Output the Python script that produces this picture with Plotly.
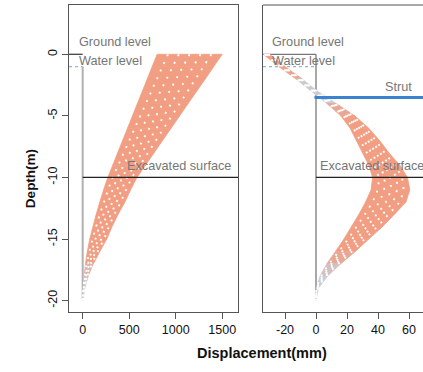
import plotly.graph_objects as go

# ---------------- data ----------------
depth = [0, -1, -2, -3, -4, -5, -6, -7, -8, -9, -10, -11, -12, -13, -14, -15,
         -16, -17, -18, -19, -20]

# left panel (displacement band, mm)
left_lo = [800, 747, 694, 641, 588, 535, 482, 429, 376, 323, 270, 225, 184, 145,
           110, 76, 50, 30, 15, 4, 0]
left_hi = [1500, 1408, 1317, 1225, 1133, 1042, 950, 858, 767, 675, 583, 515, 454,
           380, 315, 259, 185, 115, 60, 22, 3]

# right panel (displacement band, mm)
right_lo = [-34, -24, -13, -3, 7, 16, 22, 26, 30, 34, 36.5, 35.5, 32, 27.6, 22.8,
            18, 12.6, 7, 2.6, 0.2, 0]
right_hi = [-30, -20, -9, 1, 13, 25, 34, 41, 47, 54, 59, 60.5, 58, 50.5, 42.8,
            34, 25.4, 16, 7.5, 1.5, 0]

left_ticks = [0, 500, 1000, 1500]
left_ticktext = ["0", "500", "1000", "1500"]
right_ticks = [-20, 0, 20, 40, 60]
right_ticktext = ["-20", "0", "20", "40", "60"]
y_ticks = [0, -5, -10, -15, -20]
y_ticktext = ["0", "-5", "-10", "-15", "-20"]

GROUND_LEVEL = 0
WATER_LEVEL = -1
EXCAVATION = -10
STRUT_DEPTH = -3.5
WALL_BOTTOM = -19.9

# ---------------- style ----------------
SALMON = (242, 158, 131)
GRAYC = (200, 205, 216)
FONT = "Liberation Sans, Arial, Helvetica, sans-serif"
TXT = "#767676"
XR_L = [-147, 1669]
XR_R = [-34.2, 69.0]
YR = [-20.92, 4.0]


def mix(t):
    t = max(0.0, min(1.0, t))
    c = [round(GRAYC[k] + (SALMON[k] - GRAYC[k]) * t) for k in range(3)]
    return "rgb(%d,%d,%d)" % tuple(c)


fig = go.Figure()


def band(lo, hi, xa, ya, tlo, thi):
    for i in range(len(depth) - 1):
        mid = abs((lo[i] + hi[i] + lo[i + 1] + hi[i + 1]) / 4.0)
        col = mix((mid - tlo) / (thi - tlo))
        xs = [lo[i], lo[i + 1], hi[i + 1], hi[i], lo[i]]
        ys = [depth[i], depth[i + 1], depth[i + 1], depth[i], depth[i]]
        fig.add_trace(go.Scatter(x=xs, y=ys, xaxis=xa, yaxis=ya, mode="lines",
                                 fill="toself", fillcolor=col,
                                 line=dict(color=col, width=0.8),
                                 hoverinfo="skip"))
    for f in [1 / 6, 2 / 6, 3 / 6, 4 / 6, 5 / 6]:
        xs = [a + f * (b - a) for a, b in zip(lo, hi)]
        fig.add_trace(go.Scatter(x=xs, y=depth, xaxis=xa, yaxis=ya, mode="lines",
                                 line=dict(color="white", width=1.9,
                                           dash="1.9px,6.5px", shape="spline"),
                                 hoverinfo="skip"))


def hline(x0, x1, y, xa, ya, color, width, dash="solid"):
    fig.add_trace(go.Scatter(x=[x0, x1], y=[y, y], xaxis=xa, yaxis=ya,
                             mode="lines",
                             line=dict(color=color, width=width, dash=dash),
                             hoverinfo="skip"))


def vline(x, y0, y1, xa, ya, color, width):
    fig.add_trace(go.Scatter(x=[x, x], y=[y0, y1], xaxis=xa, yaxis=ya,
                             mode="lines", line=dict(color=color, width=width),
                             hoverinfo="skip"))


# ---- left panel ----
vline(0, WATER_LEVEL, WALL_BOTTOM, "x", "y", "#b0b0b0", 2)
hline(XR_L[0], 0, GROUND_LEVEL, "x", "y", "#333333", 1.2)
hline(XR_L[0], 0, WATER_LEVEL, "x", "y", "#8fb6e3", 1.2, "dot")
band(left_lo, left_hi, "x", "y", 15, 90)
hline(0, XR_L[1], EXCAVATION, "x", "y", "#222222", 1.2)

# ---- right panel ----
vline(0, GROUND_LEVEL, WALL_BOTTOM, "x2", "y2", "#a8a8a8", 2)
hline(XR_R[0], 0, GROUND_LEVEL, "x2", "y2", "#777777", 1.2)
hline(XR_R[0], 0, WATER_LEVEL, "x2", "y2", "#8fb6e3", 1.2, "dot")
band(right_lo, right_hi, "x2", "y2", 5, 18)
hline(0, XR_R[1], EXCAVATION, "x2", "y2", "#222222", 1.2)
hline(-1, XR_R[1], STRUT_DEPTH, "x2", "y2", "#3b82d0", 3)

annots = [
    dict(text="Ground level", x=-58, y=0.96, xref="x", yref="y"),
    dict(text="Water level", x=-58, y=-0.58, xref="x", yref="y"),
    dict(text="Excavated surface", x=453, y=-9.04, xref="x", yref="y"),
    dict(text="Ground level", x=-29.7, y=0.96, xref="x2", yref="y2"),
    dict(text="Water level", x=-29.7, y=-0.58, xref="x2", yref="y2"),
    dict(text="Excavated surface", x=1.5, y=-9.1, xref="x2", yref="y2"),
    dict(text="Strut", x=43.4, y=-2.63, xref="x2", yref="y2"),
]
for a in annots:
    a.update(showarrow=False, xanchor="left", yanchor="middle",
             font=dict(family=FONT, size=12.7, color=TXT))
    fig.add_annotation(**a)

fig.add_annotation(text="<b>Displacement(mm)</b>", x=0.545, y=-0.1336,
                   xref="paper", yref="paper", showarrow=False,
                   xanchor="center", yanchor="middle",
                   font=dict(family=FONT, size=14.5, color="#111"))
fig.add_annotation(text="<b>Depth(m)</b>", x=-0.110, y=0.433,
                   xref="paper", yref="paper", showarrow=False, textangle=-90,
                   xanchor="center", yanchor="middle",
                   font=dict(family=FONT, size=13.5, color="#111"))

fig.add_shape(type="line", xref="x2 domain", yref="y2 domain", x0=0, x1=1,
              y0=1, y1=1, line=dict(color="#555", width=1))

ax_common = dict(showgrid=False, zeroline=False, showline=True,
                 linecolor="#555", linewidth=1, ticks="outside", ticklen=6,
                 tickcolor="#555", tickfont=dict(family=FONT, size=12.5,
                                                 color="#111"))

fig.update_layout(
    width=423, height=372,
    margin=dict(l=69, r=0, t=5, b=60),
    paper_bgcolor="white", plot_bgcolor="white",
    showlegend=False,
    xaxis=dict(domain=[0, 0.4774], range=XR_L, tickvals=left_ticks,
               ticktext=left_ticktext, mirror=True, anchor="y", **ax_common),
    yaxis=dict(domain=[0, 1], range=YR, tickvals=y_ticks, ticktext=y_ticktext,
               tickangle=-90, mirror=True, anchor="x", **ax_common),
    xaxis2=dict(domain=[0.548, 1], range=XR_R, tickvals=right_ticks,
                ticktext=right_ticktext, anchor="y2", **ax_common),
    yaxis2=dict(domain=[0, 1], range=YR, anchor="x2", showgrid=False,
                zeroline=False, showline=True, linecolor="#555", linewidth=1,
                showticklabels=False, ticks=""),
)

fig.write_html("out.html")
